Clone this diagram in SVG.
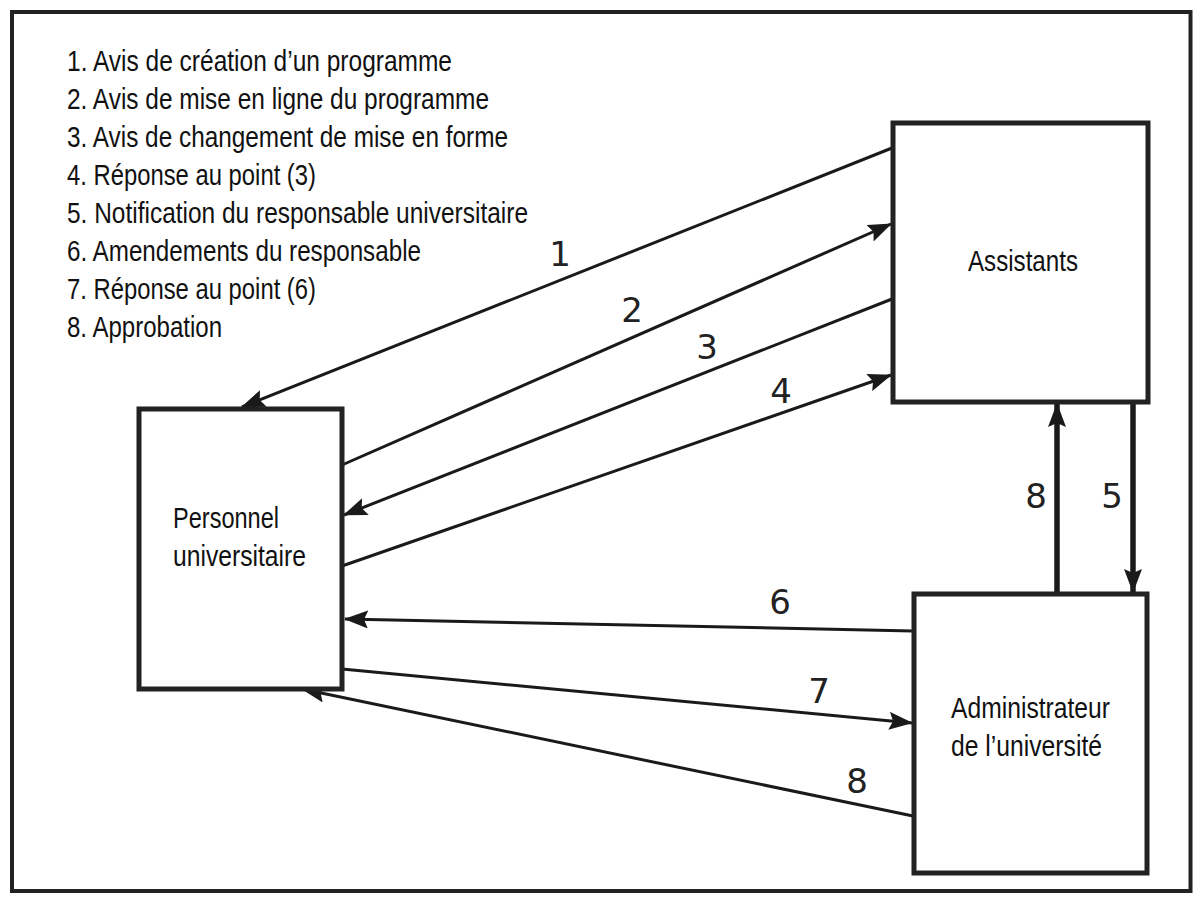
<svg xmlns="http://www.w3.org/2000/svg" width="1200" height="909" viewBox="0 0 1200 909">
<style>
.frame{fill:none;stroke:#222;stroke-width:4}
.box{fill:#fff;stroke:#222;stroke-width:5}
.txt{font-family:"Liberation Sans Narrow","Liberation Sans",Arial,sans-serif;font-size:29px;fill:#111}
.num{font-family:"DejaVu Sans",sans-serif;font-size:34px;fill:#222;text-anchor:middle}
.conn{stroke:#1a1a1a;stroke-width:3;fill:none;marker-end:url(#ah)}
.vconn{stroke:#1a1a1a;stroke-width:5.5;fill:none;marker-end:url(#ah)}
</style>
<defs>
<marker id="ah" markerUnits="userSpaceOnUse" viewBox="0 0 24 18" refX="23" refY="9" markerWidth="24" markerHeight="18" orient="auto">
<path d="M0,0 L24,9 L0,18 L4,9 Z" fill="#1a1a1a"/>
</marker>
</defs>
<rect width="1200" height="909" fill="#fff"/>
<rect class="frame" x="12" y="12" width="1178.5" height="879"/>
<g id="legend" class="txt">
<text x="67" y="71" textLength="385" lengthAdjust="spacingAndGlyphs">1. Avis de création d’un programme</text>
<text x="67" y="109" textLength="422" lengthAdjust="spacingAndGlyphs">2. Avis de mise en ligne du programme</text>
<text x="67" y="147" textLength="441" lengthAdjust="spacingAndGlyphs">3. Avis de changement de mise en forme</text>
<text x="67" y="185" textLength="249" lengthAdjust="spacingAndGlyphs">4. Réponse au point (3)</text>
<text x="67" y="223" textLength="461" lengthAdjust="spacingAndGlyphs">5. Notification du responsable universitaire</text>
<text x="67" y="261" textLength="354" lengthAdjust="spacingAndGlyphs">6. Amendements du responsable</text>
<text x="67" y="299" textLength="249" lengthAdjust="spacingAndGlyphs">7. Réponse au point (6)</text>
<text x="67" y="337" textLength="155" lengthAdjust="spacingAndGlyphs">8. Approbation</text>
</g>
<g id="connectors">
<line class="conn" x1="892" y1="148" x2="242" y2="407"/>
<line class="conn" x1="342" y1="465" x2="891" y2="224"/>
<line class="conn" x1="892" y1="299" x2="344" y2="515"/>
<line class="conn" x1="342" y1="566" x2="891" y2="375"/>
<line class="conn" x1="913" y1="631" x2="345" y2="619"/>
<line class="conn" x1="342" y1="669" x2="912" y2="723"/>
<line class="conn" x1="913" y1="816" x2="302" y2="689"/>
<line class="vconn" x1="1057" y1="594" x2="1057" y2="404"/>
<line class="vconn" x1="1133" y1="402" x2="1133" y2="592"/>
<g class="num">
<text x="560" y="266">1</text>
<text x="632" y="322">2</text>
<text x="707" y="359">3</text>
<text x="781" y="403">4</text>
<text x="780" y="614">6</text>
<text x="819" y="703">7</text>
<text x="857" y="793">8</text>
<text x="1036" y="508">8</text>
<text x="1112" y="508">5</text>
</g>
</g>
<g id="node-assistants">
<rect class="box" x="893" y="123" width="255" height="279"/>
<text class="txt" x="968" y="271" textLength="110" lengthAdjust="spacingAndGlyphs">Assistants</text>
</g>
<g id="node-personnel">
<rect class="box" x="139" y="409" width="203" height="280"/>
<text class="txt" x="173" y="528" textLength="106" lengthAdjust="spacingAndGlyphs">Personnel</text>
<text class="txt" x="173" y="566" textLength="133" lengthAdjust="spacingAndGlyphs">universitaire</text>
</g>
<g id="node-administrateur">
<rect class="box" x="914" y="594" width="233" height="279"/>
<text class="txt" x="951" y="718" textLength="159" lengthAdjust="spacingAndGlyphs">Administrateur</text>
<text class="txt" x="951" y="756" textLength="151" lengthAdjust="spacingAndGlyphs">de l’université</text>
</g>
</svg>
